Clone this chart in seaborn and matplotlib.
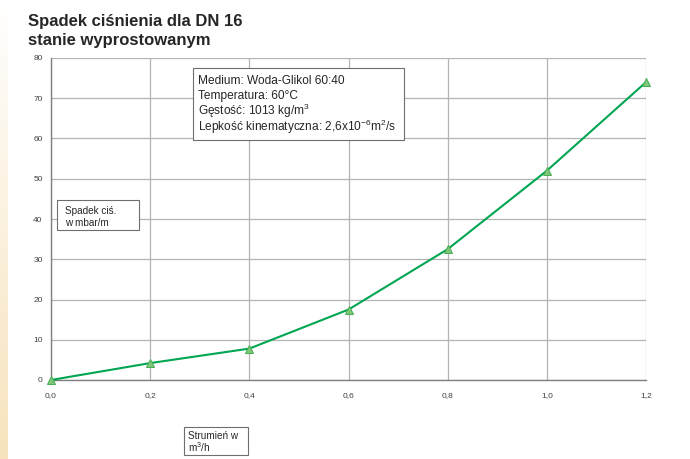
import numpy as np
import pandas as pd
import matplotlib
matplotlib.use("Agg")
import matplotlib.pyplot as plt
from matplotlib.patches import Rectangle
import seaborn as sns

# data
flow = [0.0, 0.2, 0.4, 0.6, 0.8, 1.0, 1.2]
drop = [0.0, 4.2, 7.8, 17.5, 32.5, 52.0, 74.0]
x_ticks = [0.0, 0.2, 0.4, 0.6, 0.8, 1.0, 1.2]
x_labels = ["0,0", "0,2", "0,4", "0,6", "0,8", "1,0", "1,2"]
y_ticks = [0, 10, 20, 30, 40, 50, 60, 70, 80]

title_lines = ["Spadek ciśnienia dla DN 16", "stanie wyprostowanym"]
info_lines = ["Medium: Woda-Glikol 60:40",
              "Temperatura: 60°C",
              "Gęstość: 1013 kg/m$^{3}$",
              "Lepkość kinematyczna: 2,6x10$^{-6}$m$^{2}$/s"]
ylabel_lines = ["Spadek ciś.", "w mbar/m"]
xlabel_lines = ["Strumień w", "m$^{3}$/h"]

df = pd.DataFrame({"Strumien": flow, "Spadek": drop})

sns.set_style("white")
plt.rcParams["font.family"] = ["Liberation Sans", "DejaVu Sans"]
plt.rcParams["mathtext.fontset"] = "custom"
plt.rcParams["mathtext.rm"] = "Liberation Sans"
plt.rcParams["mathtext.it"] = "Liberation Sans:italic"

W, H = 690, 459
fig = plt.figure(figsize=(6.9, 4.59), dpi=100)


def fx(px):
    return px / W


def fy(py):
    return 1 - py / H


# cream strip on the left edge
bg = fig.add_axes([0, 0, 8 / W, 1])
grad = np.linspace(0, 1, 200).reshape(-1, 1)
cmap = matplotlib.colors.LinearSegmentedColormap.from_list("cream", ["#ffffff", "#f7e3bd"])
bg.imshow(grad, aspect="auto", cmap=cmap, origin="upper", extent=[0, 1, 0, 1])
bg.axis("off")

ax = fig.add_axes([fx(51), fy(380), (646 - 51) / W, (380 - 58) / H])
sns.lineplot(data=df, x="Strumien", y="Spadek", ax=ax, color="#00a651", linewidth=1.5,
             marker="^", markersize=5.5, markerfacecolor="#80c77a", markeredgecolor="#4aae55",
             zorder=5, clip_on=False)

ax.set_xlim(0, 1.2)
ax.set_ylim(0, 80)
ax.set_xticks(x_ticks)
ax.set_xticklabels(x_labels)
ax.set_yticks(y_ticks)
ax.set_xlabel("")
ax.set_ylabel("")
ax.grid(True, color="#b4b4b4", linewidth=0.9)
ax.tick_params(axis="both", direction="out", length=3, width=0.8, color="#808080",
               labelsize=6, labelcolor="#404040")
ax.tick_params(axis="x", pad=6)
ax.tick_params(axis="y", pad=3)
for side in ["top", "right"]:
    ax.spines[side].set_visible(False)
for side in ["left", "bottom"]:
    ax.spines[side].set_color("#808080")
    ax.spines[side].set_linewidth(1.0)
ax.set_axisbelow(True)

# title
for txt, base in zip(title_lines, [26, 45]):
    fig.text(fx(28), fy(base), txt, fontsize=12, fontweight="bold", va="baseline", ha="left")


def text_box(x0, y0, x1, y1, lines, tx, bases, size):
    fig.patches.append(Rectangle((fx(x0), fy(y1)), fx(x1) - fx(x0), fy(y0) - fy(y1),
                                 transform=fig.transFigure, facecolor="white",
                                 edgecolor="#6e6e6e", linewidth=0.8, zorder=3))
    for txt, base in zip(lines, bases):
        fig.text(fx(tx), fy(base), txt, fontsize=size, va="baseline", ha="left", zorder=4)


text_box(193, 68, 404, 140, info_lines, 198, [84, 99.5, 115, 131], 8.6)
text_box(57, 200, 139, 230, ylabel_lines, 65, [214, 226], 7.2)
text_box(184, 427, 248, 455, xlabel_lines, 188.5, [439, 451.5], 7.2)

fig.savefig("out.png", dpi=100)
